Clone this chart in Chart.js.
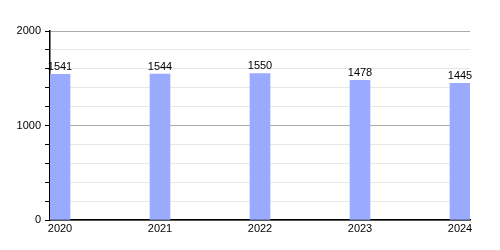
<!DOCTYPE html>
<html>
<head>
<meta charset="utf-8">
<script src="https://cdn.jsdelivr.net/npm/chart.js@4.4.1/dist/chart.umd.min.js"></script>
<style>
  html, body { margin: 0; padding: 0; background: #fff; }
  #wrap { width: 500px; height: 250px; }
</style>
</head>
<body>
<div id="wrap"><canvas id="chart"></canvas></div>
<script>
'use strict';

const years  = [2020, 2021, 2022, 2023, 2024];
const values = [1541, 1544, 1550, 1478, 1445];
const yTicks = [0, 1000, 2000];

const FONT = 'Liberation Sans, Arial, sans-serif';

// value labels above each bar
const barLabels = {
  id: 'barLabels',
  afterDatasetsDraw(chart) {
    const { ctx } = chart;
    const meta = chart.getDatasetMeta(0);
    ctx.save();
    ctx.font = `11px ${FONT}`;
    ctx.fillStyle = '#000';
    ctx.textAlign = 'center';
    ctx.textBaseline = 'bottom';
    meta.data.forEach((bar, i) => {
      ctx.fillText(String(values[i]), bar.x, bar.y - 2);
    });
    ctx.restore();
  },
};

new Chart(document.getElementById('chart'), {
  type: 'bar',
  data: {
    datasets: [{
      data: years.map((y, i) => ({ x: y, y: values[i] })),
      backgroundColor: '#99aaff',
      borderWidth: 0,
      barThickness: 20,
    }],
  },
  options: {
    responsive: true,
    maintainAspectRatio: false,
    animation: false,
    layout: { padding: { top: 31, right: 30, left: 0, bottom: 0 } },
    plugins: {
      legend: { display: false },
      tooltip: { enabled: false },
    },
    scales: {
      x: {
        type: 'linear',
        offset: false,
        min: years[0] - 0.1,
        max: years[years.length - 1] + 0.1,
        afterBuildTicks: (scale) => { scale.ticks = years.map((v) => ({ value: v })); },
        afterFit: (scale) => { scale.height = 30; },
        grid: { display: false, drawTicks: false },
        border: { color: '#000', width: 1.5 },
        ticks: {
          color: '#000',
          font: { family: FONT, size: 11 },
          padding: 2,
          maxRotation: 0,
          autoSkip: false,
          callback: (v) => String(v),
        },
      },
      y: {
        min: 0,
        max: 2000,
        afterFit: (scale) => { scale.width = 50; },
        border: { color: '#000', width: 1.5 },
        grid: {
          color: (c) => (c.tick && c.tick.value % 1000 === 0 ? '#aaaaaa' : '#e6e6e6'),
          tickColor: '#000',
          tickLength: 5,
        },
        ticks: {
          stepSize: 200,
          color: '#000',
          font: { family: FONT, size: 11 },
          padding: 4,
          autoSkip: false,
          callback: (v) => (yTicks.includes(v) ? String(v) : ''),
        },
      },
    },
  },
  plugins: [barLabels],
});
</script>
</body>
</html>
